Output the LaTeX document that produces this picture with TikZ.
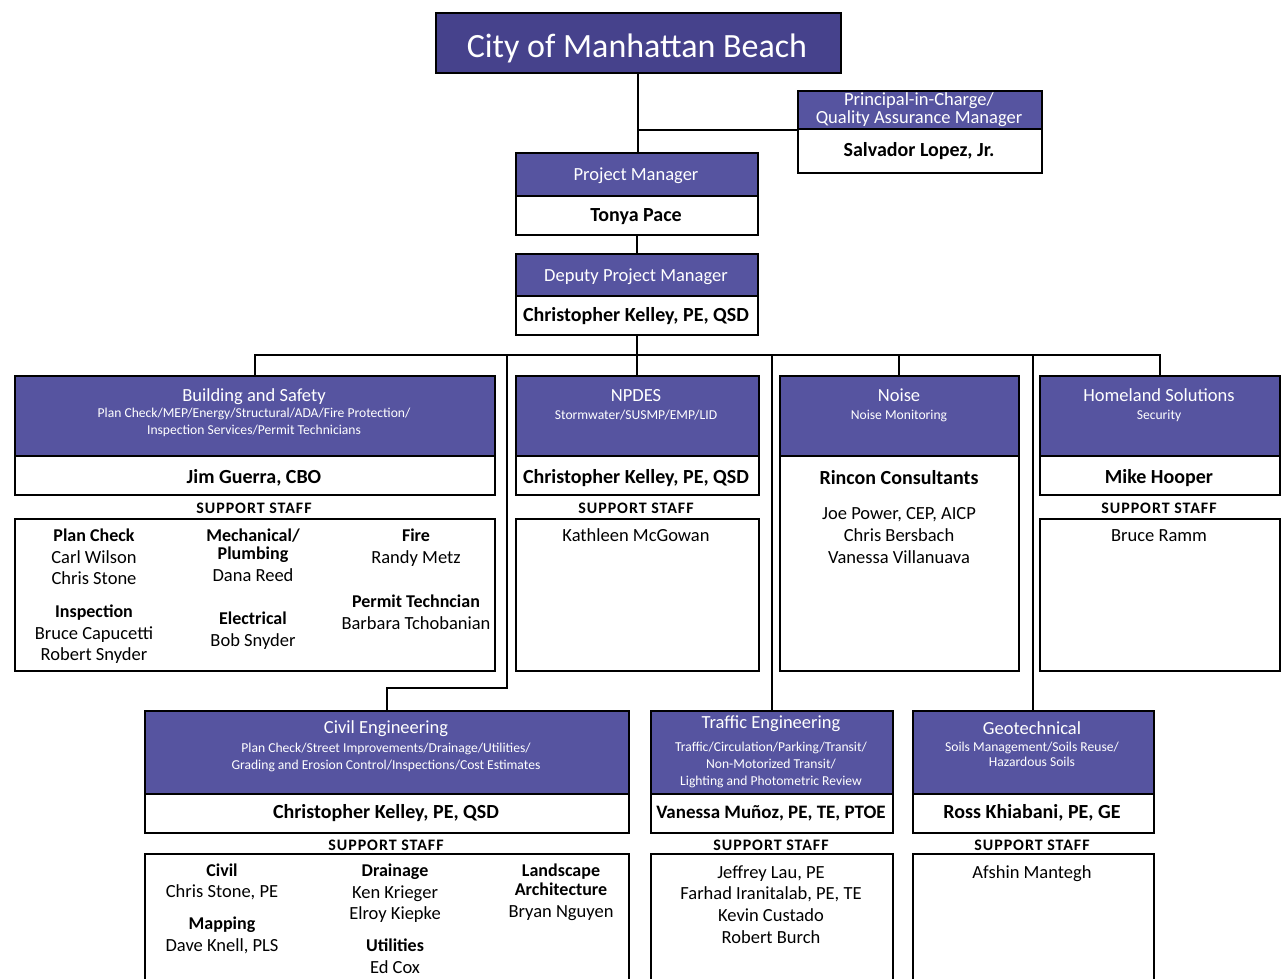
\documentclass[tikz,border=0pt]{standalone}
\usepackage{fontspec}
\setmainfont{Carlito}
\newfontfamily\spaced[LetterSpace=6]{Carlito}
\usetikzlibrary{calc}
\definecolor{hdrblue}{RGB}{86,84,160}
\definecolor{ttlblue}{RGB}{70,66,140}
\newcounter{tn}
\newcommand\tx[4][]{\stepcounter{tn}\node[#2,#1] (t\arabic{tn}) at (#3) {#4};}
\tikzset{
 box/.style={draw=black, line width=1.7pt, inner sep=0pt, anchor=north west},
 hdrbox/.style={box, fill=hdrblue},
 whtbox/.style={box, fill=white},
 conn/.style={line width=2pt},
 ttl/.style={anchor=base, inner sep=0pt, text=white, font=\fontsize{34}{40}\selectfont, yshift=-11pt},
 hd/.style={anchor=base, inner sep=0pt, text=white, font=\fontsize{18.5}{22}\selectfont, yshift=-6pt},
 sub/.style={anchor=base, inner sep=0pt, text=white, font=\fontsize{13.6}{16}\selectfont, yshift=-4pt},
 nm/.style={anchor=base, inner sep=0pt, font=\bfseries\fontsize{20}{24}\selectfont, yshift=-6.5pt},
 st/.style={anchor=base, inner sep=0pt, font=\fontsize{18.5}{22}\selectfont, yshift=-6pt},
 stb/.style={st, font=\bfseries\fontsize{18}{22}\selectfont},
 sup/.style={anchor=base, inner sep=0pt, font=\spaced\bfseries\fontsize{16}{20}\selectfont, yshift=-5.5pt},
}
\begin{document}
\begin{tikzpicture}[x=1pt,y=-1pt]
\useasboundingbox (0,0) rectangle (1283,979);
\fill[white] (0,0) rectangle (1283,979);
\clip (0,0) rectangle (1283,979);
% top boxes
\node[box, fill=ttlblue, minimum width=405pt, minimum height=60pt] (title) at (435,12) {};
\node[hdrbox, minimum width=244pt, minimum height=38pt] (pr-h) at (797,90) {};
\node[whtbox, minimum width=244pt, minimum height=44pt] (pr-w) at (797,128) {};
\node[hdrbox, minimum width=242pt, minimum height=43pt] (pm-h) at (515,152) {};
\node[whtbox, minimum width=242pt, minimum height=39pt] (pm-w) at (515,195) {};
\node[hdrbox, minimum width=242pt, minimum height=42pt] (dpm-h) at (515,253) {};
\node[whtbox, minimum width=242pt, minimum height=39pt] (dpm-w) at (515,295) {};
% row 1
\node[hdrbox, minimum width=480pt, minimum height=80pt] (bs-h) at (14,375) {};
\node[whtbox, minimum width=480pt, minimum height=39pt] (bs-w) at (14,455) {};
\node[whtbox, minimum width=480pt, minimum height=152pt] (bs-s) at (14,518) {};
\node[hdrbox, minimum width=243pt, minimum height=80pt] (np-h) at (515,375) {};
\node[whtbox, minimum width=243pt, minimum height=39pt] (np-w) at (515,455) {};
\node[whtbox, minimum width=243pt, minimum height=152pt] (np-s) at (515,518) {};
\node[hdrbox, minimum width=239pt, minimum height=80pt] (no-h) at (779,375) {};
\node[whtbox, minimum width=239pt, minimum height=215pt] (no-w) at (779,455) {};
\node[hdrbox, minimum width=240pt, minimum height=80pt] (hs-h) at (1039,375) {};
\node[whtbox, minimum width=240pt, minimum height=39pt] (hs-w) at (1039,455) {};
\node[whtbox, minimum width=240pt, minimum height=152pt] (hs-s) at (1039,518) {};
% row 2
\node[hdrbox, minimum width=484pt, minimum height=83pt] (ce-h) at (144,710) {};
\node[whtbox, minimum width=484pt, minimum height=39pt] (ce-w) at (144,793) {};
\node[whtbox, minimum width=484pt, minimum height=150pt] (ce-s) at (144,853) {};
\node[hdrbox, minimum width=242pt, minimum height=83pt] (te-h) at (650,710) {};
\node[whtbox, minimum width=242pt, minimum height=39pt] (te-w) at (650,793) {};
\node[whtbox, minimum width=242pt, minimum height=150pt] (te-s) at (650,853) {};
\node[hdrbox, minimum width=241pt, minimum height=83pt] (ge-h) at (912,710) {};
\node[whtbox, minimum width=241pt, minimum height=39pt] (ge-w) at (912,793) {};
\node[whtbox, minimum width=241pt, minimum height=150pt] (ge-s) at (912,853) {};
% connectors
\coordinate (busL) at (254,355);
\coordinate (cA) at (507,355);
\coordinate (cB) at (507,688);
\draw[conn] (title.south) -- (title.south |- pm-h.north);
\draw[conn] (title.south |- pr-h.south west) -- (pr-h.south west);
\draw[conn] (pm-w.south) -- (dpm-h.north);
\draw[conn] (dpm-w.south) -- (dpm-w.south |- busL);
\draw[conn] (bs-h.north) -- (bs-h.north |- busL) -- (hs-h.north |- busL) -- (hs-h.north);
\draw[conn] (np-h.north) -- (np-h.north |- busL);
\draw[conn] (no-h.north) -- (no-h.north |- busL);
\draw[conn] (cA) -- (cB) -| (ce-h.north);
\draw[conn] (te-h.north) -- (te-h.north |- busL);
\draw[conn] (ge-h.north) -- (ge-h.north |- busL);
% texts top
\tx{ttl}{637,47}{City of Manhattan Beach}
\tx{hd}{919,100}{Principal-in-Charge/}
\tx{hd}{919,118}{Quality Assurance Manager}
\tx{nm}{919,150}{Salvador Lopez, Jr.}
\tx{hd}{636,174}{Project Manager}
\tx{nm}{636,215}{Tonya Pace}
\tx{hd}{636,275}{Deputy Project Manager}
\tx{nm}{636,315}{Christopher Kelley, PE, QSD}
% building
\tx{hd}{254,395}{Building and Safety}
\tx{sub}{254,413}{Plan Check/MEP/Energy/Structural/ADA/Fire Protection/}
\tx{sub}{254,430}{Inspection Services/Permit Technicians}
\tx{nm}{254,477}{Jim Guerra, CBO}
\tx{sup}{254,508}{SUPPORT STAFF}
\tx{stb}{94,535}{Plan Check}
\tx{st}{94,557}{Carl Wilson}
\tx{st}{94,578}{Chris Stone}
\tx{stb}{94,611}{Inspection}
\tx{st}{94,633}{Bruce Capucetti}
\tx{st}{94,654}{Robert Snyder}
\tx{stb}{253,535}{Mechanical/}
\tx{stb}{253,553}{Plumbing}
\tx{st}{253,575}{Dana Reed}
\tx{stb}{253,618}{Electrical}
\tx{st}{253,640}{Bob Snyder}
\tx{stb}{416,535}{Fire}
\tx{st}{416,557}{Randy Metz}
\tx{stb}{416,601}{Permit Techncian}
\tx{st}{416,623}{Barbara Tchobanian}
% npdes
\tx{hd}{636,395}{NPDES}
\tx{sub}{636,415}{Stormwater/SUSMP/EMP/LID}
\tx{nm}{636,477}{Christopher Kelley, PE, QSD}
\tx{sup}{636,508}{SUPPORT STAFF}
\tx{st}{636,535}{Kathleen McGowan}
% noise
\tx{hd}{899,395}{Noise}
\tx{sub}{899,415}{Noise Monitoring}
\tx{nm}{899,478}{Rincon Consultants}
\tx{st}{899,513}{Joe Power, CEP, AICP}
\tx{st}{899,535}{Chris Bersbach}
\tx{st}{899,557}{Vanessa Villanuava}
% homeland
\tx{hd}{1159,395}{Homeland Solutions}
\tx{sub}{1159,415}{Security}
\tx{nm}{1159,477}{Mike Hooper}
\tx{sup}{1159,508}{SUPPORT STAFF}
\tx{st}{1159,535}{Bruce Ramm}
% civil
\tx{hd}{386,727}{Civil Engineering}
\tx{sub}{386,748}{Plan Check/Street Improvements/Drainage/Utilities/}
\tx{sub}{386,765}{Grading and Erosion Control/Inspections/Cost Estimates}
\tx{nm}{386,812}{Christopher Kelley, PE, QSD}
\tx{sup}{386,845}{SUPPORT STAFF}
\tx{stb}{222,870}{Civil}
\tx{st}{222,891}{Chris Stone, PE}
\tx{stb}{222,923}{Mapping}
\tx{st}{222,945}{Dave Knell, PLS}
\tx{stb}{395,870}{Drainage}
\tx{st}{395,892}{Ken Krieger}
\tx{st}{395,913}{Elroy Kiepke}
\tx{stb}{395,945}{Utilities}
\tx{st}{395,967}{Ed Cox}
\tx{stb}{561,870}{Landscape}
\tx{stb}{561,889}{Architecture}
\tx{st}{561,911}{Bryan Nguyen}
% traffic
\tx{hd}{771,722}{Traffic Engineering}
\tx{sub}{771,747}{Traffic/Circulation/Parking/Transit/}
\tx{sub}{771,764}{Non-Motorized Transit/}
\tx{sub}{771,781}{Lighting and Photometric Review}
\tx[font=\bfseries\fontsize{19}{24}\selectfont]{nm}{771,812}{Vanessa Muñoz, PE, TE, PTOE}
\tx{sup}{771,845}{SUPPORT STAFF}
\tx{st}{771,872}{Jeffrey Lau, PE}
\tx{st}{771,893}{Farhad Iranitalab, PE, TE}
\tx{st}{771,915}{Kevin Custado}
\tx{st}{771,937}{Robert Burch}
% geotech
\tx{hd}{1032,728}{Geotechnical}
\tx{sub}{1032,747}{Soils Management/Soils Reuse/}
\tx{sub}{1032,762}{Hazardous Soils}
\tx{nm}{1032,812}{Ross Khiabani, PE, GE}
\tx{sup}{1032,845}{SUPPORT STAFF}
\tx{st}{1032,872}{Afshin Mantegh}
\end{tikzpicture}
\end{document}
